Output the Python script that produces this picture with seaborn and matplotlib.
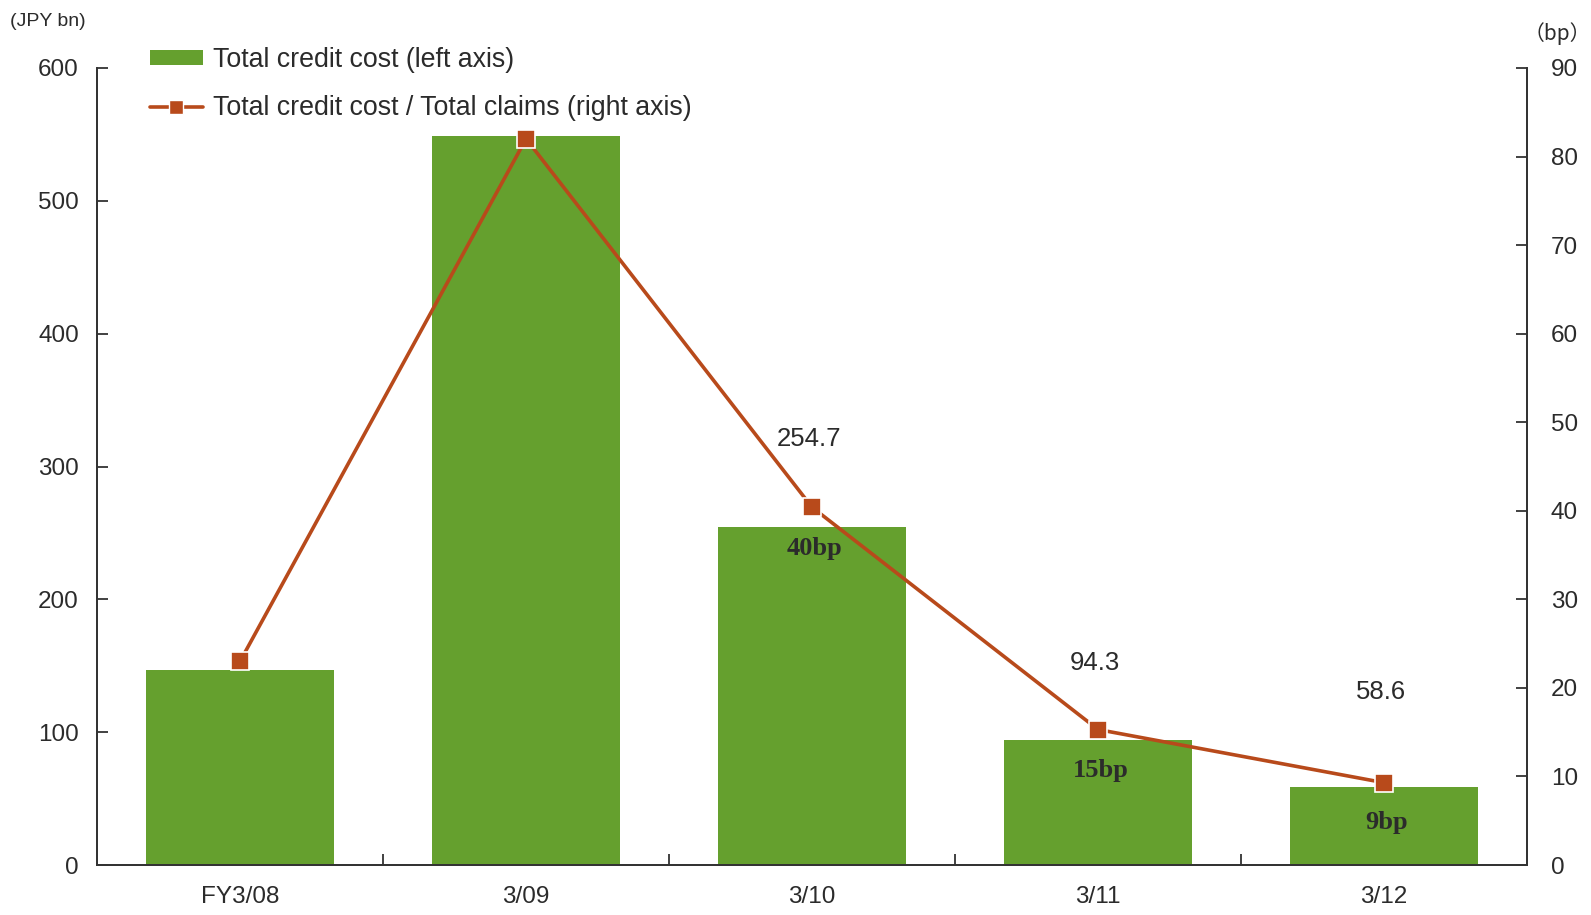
import numpy as np
import pandas as pd
import matplotlib
matplotlib.use("Agg")
import matplotlib.pyplot as plt
import seaborn as sns
from matplotlib.lines import Line2D
from matplotlib.patches import Patch

# ---- data ----
categories = ["FY3/08", "3/09", "3/10", "3/11", "3/12"]
credit_cost = [147.0, 549.0, 254.7, 94.3, 58.6]          # JPY bn, left axis
cost_ratio = [23.0, 82.0, 40.4, 15.3, 9.3]               # bp, right axis
value_labels = ["", "", "254.7", "94.3", "58.6"]
bp_labels = ["", "", "40bp", "15bp", "9bp"]

GREEN = "#65a02e"
RUST = "#b84a1b"
TXT = "#2b2b2b"

sns.set_theme(style="white")
plt.rcParams["font.family"] = ["Liberation Sans", "Noto Sans CJK JP", "DejaVu Sans"]
plt.rcParams["text.color"] = TXT
plt.rcParams["axes.labelcolor"] = TXT
plt.rcParams["xtick.color"] = TXT
plt.rcParams["ytick.color"] = TXT

df = pd.DataFrame({"cat": categories, "cost": credit_cost, "ratio": cost_ratio})

fig = plt.figure(figsize=(15.91, 9.15), dpi=100)
ax = fig.add_axes([0.061, 0.0546, 0.8988, 0.8711])
sns.barplot(data=df, x="cat", y="cost", color=GREEN, saturation=1, width=0.66,
            edgecolor="none", ax=ax)
ax2 = ax.twinx()
sns.pointplot(data=df, x="cat", y="ratio", color=RUST, markers="s", linestyles="-",
              ax=ax2, markersize=12.5, linewidth=2.6,
              markeredgecolor="white", markeredgewidth=1.2)

for a in (ax, ax2):
    a.set_xlim(-0.5, len(categories) - 0.5)
    a.set_xlabel("")
    a.set_ylabel("")
    for s in a.spines.values():
        s.set_color("#333333")
        s.set_linewidth(1.3)
    a.spines["top"].set_visible(False)

ax.set_ylim(0, 600)
ax.set_yticks(np.arange(0, 601, 100))
ax2.set_ylim(0, 90)
ax2.set_yticks(np.arange(0, 91, 10))

ax.tick_params(axis="y", left=True, right=False, direction="in", length=8, width=1.3,
               labelsize=17.5, pad=13, color="#333333")
ax2.tick_params(axis="y", right=True, left=False, direction="in", length=8, width=1.3,
                labelsize=17.5, pad=17, color="#333333")
ax.tick_params(axis="x", which="major", bottom=False, length=0, labelsize=17.5, pad=15)
ax.set_xticks(np.arange(len(categories) - 1) + 0.5, minor=True)
ax.tick_params(axis="x", which="minor", bottom=True, direction="in", length=8,
               width=1.3, color="#333333")
ax2.tick_params(axis="x", bottom=False, length=0)
ax.spines["left"].set_visible(True)
ax.spines["bottom"].set_visible(True)
ax2.spines["right"].set_visible(True)

# value labels above bars (left-axis units)
label_y = [0, 0, 321, 152, 130]
for i, t in enumerate(value_labels):
    if t:
        ax.text(i - 0.01, label_y[i], t, ha="center", va="center", fontsize=18.5, color=TXT)

# bp labels inside bars
bp_y = [0, 0, 238, 71, 32]
for i, t in enumerate(bp_labels):
    if t:
        ax.text(i + 0.01, bp_y[i], t, ha="center", va="center", fontsize=19,
                fontweight="bold", family="Liberation Serif", color=TXT, zorder=5)

fig.text(0.006, 0.977, "(JPY bn)", fontsize=14, ha="left", va="center", color=TXT)
fig.text(0.979, 0.963, "（bp）", fontsize=15, ha="center", va="center", color=TXT,
         family=["Noto Sans CJK JP", "DejaVu Sans"])

handles = [Patch(facecolor=GREEN, edgecolor="none"),
           Line2D([0], [0], color=RUST, lw=2.6, marker="s", markersize=10,
                  markeredgecolor="white", markeredgewidth=1.0)]
labels = ["Total credit cost (left axis)", "Total credit cost / Total claims (right axis)"]
fig.legend(handles, labels, loc="upper left", bbox_to_anchor=(0.094, 0.949),
           frameon=False, fontsize=19.3, handlelength=2.0, handleheight=0.5,
           labelspacing=0.84, handletextpad=0.35, borderaxespad=0, borderpad=0)

fig.savefig("out.png", dpi=100)
